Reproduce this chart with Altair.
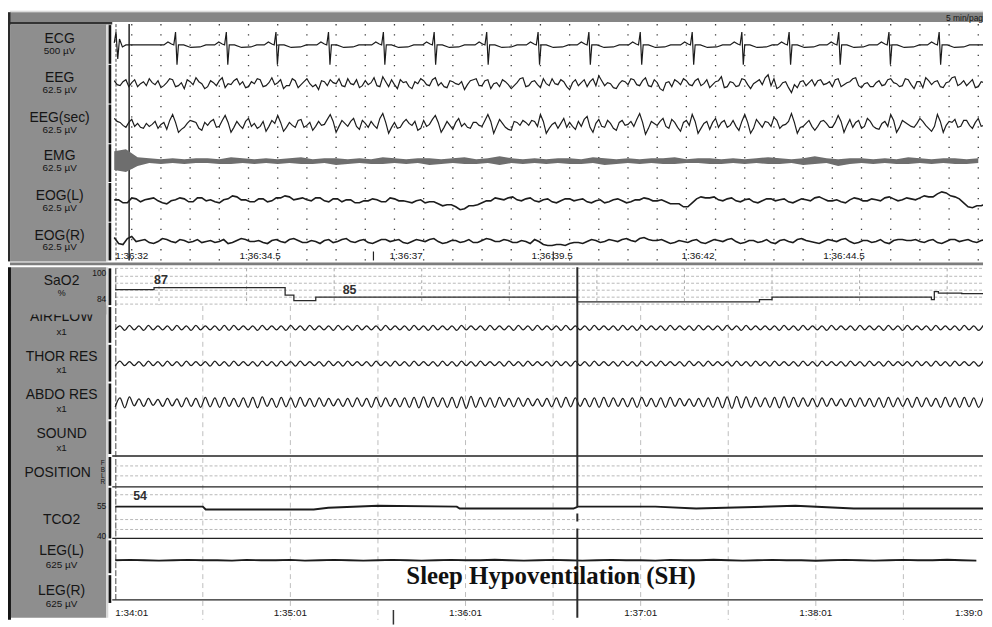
import altair as alt
import pandas as pd

# ---------------- data ----------------
TOP_CHANNELS = ["ECG", "EEG", "EEG(sec)", "EMG", "EOG(L)", "EOG(R)"]
TOP_UNITS = ["500 µV", "62.5 µV", "62.5 µV", "62.5 µV", "62.5 µV", "62.5 µV"]
TOP_TIME_LABELS = ["1:36:32", "1:36:34.5", "1:36:37", "1:36:39.5", "1:36:42", "1:36:44.5"]
TOP_TIME_SEC = [0, 2.5, 5, 7.5, 10, 12.5]
BOT_TIME_LABELS = ["1:34:01", "1:35:01", "1:36:01", "1:37:01", "1:38:01", "1:39:01"]
BOT_TIME_SEC = [0, 60, 120, 180, 240, 300]

# ECG: R-peak times (s) and one beat shape (offset s, deflection)
ECG_BEATS = [1.05, 1.92, 2.77, 3.67, 4.61, 5.48, 6.38, 7.26, 8.13, 9.01,
             9.90, 10.75, 11.56, 12.41, 13.27, 14.13]
ECG_DT = [-0.20, -0.13, -0.07, -0.03, 0.0, 0.025, 0.05, 0.14, 0.26, 0.42, 0.52]
ECG_DV = [0, 3, 1, 0, 13, -20, 0, 0, -2.5, -2, 0]
ECG_PRE_T = [0.0, 0.03, 0.06, 0.09, 0.14, 0.2]
ECG_PRE_V = [2, 13, -14, 6, -2, 0]

# samples every 0.1 s, plus in-between samples (at +0.05 s)
EEG = [3, -2, 4, 1, -3, 2, 5, -1, -4, 1,
       4, -2, -5, 2, 6, 0, -3, 1, 3, -4,
       -1, 5, 2, -3, 0, 4, -2, 6, 1, -5,
       -2, 3, -1, 5, -3, -6, 2, 4, 0, -2,
       5, -1, -4, 3, 1, -2, 7, -3, -1, 4,
       2, -5, 0, 3, -2, 6, 1, -4, 2, -1,
       -6, 3, 5, -2, 4, 0, -3, 2, -5, 1,
       6, -2, 3, -4, 0, 5, -1, 2, -6, 4,
       1, -3, 5, 8, -2, 0, -5, 3, -1, 4,
       -2, 6, -3, 1, -7, 2, 4, -1, 3, -2,
       5, 0, -4, 2, 7, -3, 1, -2, 4, -5,
       2, -1, 9, 5, -3, 2, -9, -4, 3, 1,
       -2, 4, 0, -3, 5, -1, 2, 6, -4, 1,
       -3, 3, -1, 5, 0, -2, 4, -5, 2, 6,
       -1, 3, -4, 2, 7, 0, -2, 4, -3, 1]
EEG_MID = [-1, 2, -3, 4, 0, -2, 1, 3, -2, 5,
           -3, 1, 4, -1, 2, -5, 3, -2, 6, 0,
           3, -1, -4, 2, 5, -3, 1, -1, 4, -2,
           5, -4, 2, 0, -1, 3, -2, 1, 5, -3,
           0, 4, -2, -1, 6, -3, 2, 4, -5, 1,
           -3, 2, 5, -1, 4, -2, -3, 3, 0, 2,
           -1, 4, -2, 3, -5, 1, 4, -1, -2, 5,
           -3, 2, -1, 5, -2, 0, 4, -3, 1, -2,
           4, 2, -2, 3, 1, -4, 0, 2, 5, -1,
           3, -2, 4, -5, 1, -3, 2, 5, -1, 3,
           -2, 4, -1, 3, -4, 2, -3, 5, -1, 0,
           4, 6, -2, -5, 1, -4, -1, 2, -2, 4,
           3, -1, 2, 4, -3, 1, 5, -2, 0, -3,
           1, -2, 4, 1, -3, 5, -1, 2, -4, 3,
           2, -3, 1, 6, -2, 3, 1, -4, 2, 0]
EEG_SEC = [6, 2, -3, 5, 1, -4, -2, 3, 0, -5,
           10, -8, -3, 4, 2, -6, -1, 5, -2, 9,
           -8, 3, -4, 6, 1, -2, -7, 4, 9, -7,
           2, -3, 5, -1, -6, 3, 0, 10, -8, 4,
           -2, 6, -5, 1, 3, -4, 11, -9, 2, -3,
           5, -1, -6, 4, 0, 9, -8, 3, -5, 6,
           1, -4, 2, -2, 10, -9, 5, -3, -6, 2,
           4, -1, 3, 10, -9, 0, -4, 6, 2, -5,
           -2, 8, -8, 5, -3, 1, -6, 4, 0, -2,
           11, -10, 3, -1, 6, -4, 2, -7, 4, 10,
           -9, 1, -5, 6, 2, -3, 4, -6, 10, -9,
           5, -3, 2, 7, -4, 0, 11, -9, -2, 4,
           -6, 3, 1, -3, 9, -8, 5, 2, -4, 6,
           -2, -5, 3, 10, -8, 4, 0, -3, 6, -1,
           -7, 10, -8, 3, 5, -2, 4, -4, 6, -1]
EEG_SEC_MID = [3, -1, 2, -2, -3, 1, 0, -4, 2, 4,
               2, -5, 1, 3, -4, 2, 3, -3, 4, 2,
               -3, -1, 3, -2, -4, 3, -2, 1, 2, -3,
               -1, 4, -3, 2, -2, -1, 5, 3, -2, 1,
               3, -2, 4, -3, -1, 6, 2, -3, -4, 2,
               1, 3, -4, -2, 5, 2, -3, -1, 2, -2,
               -3, 2, -1, 4, 3, -2, 1, -5, 3, -1,
               2, 4, -2, 3, -4, 2, 1, -3, -2, 3,
               5, -3, 1, -2, 4, -4, 2, -1, 3, 5,
               2, -4, 1, 3, -2, 5, -3, 2, -1, 3,
               -4, 3, 2, -3, 4, -1, -2, 3, 2, -4,
               1, 3, -2, 4, -1, 3, 2, -3, 1, -2,
               -2, 4, -3, 2, 3, -1, -3, 4, -2, 3,
               -4, 1, -2, 4, -3, 2, -2, 1, 3, -4,
               -2, 3, -1, 2, -3, 4, -1, 2, -2, 3]
# EMG band: upper / lower half-width every 0.2 s
EMG_UP = [10, 12, 4, 3, 2, 3, 2, 3, 3, 2,
          4, 3, 2, 3, 2, 3, 4, 2, 3, 3,
          2, 3, 2, 4, 3, 2, 3, 3, 2, 3,
          4, 2, 3, 5, 3, 2, 3, 2, 3, 3,
          2, 4, 3, 2, 3, 2, 3, 3, 4, 2,
          3, 3, 2, 3, 2, 3, 4, 3, 2, 3,
          5, 3, 2, 3, 3, 2, 3, 2, 4, 3,
          2, 3, 3, 2, 3]
EMG_DN = [9, 11, 5, 2, 3, 2, 3, 2, 2, 3,
          3, 2, 3, 2, 3, 2, 3, 3, 2, 4,
          3, 2, 3, 3, 2, 3, 2, 4, 3, 2,
          3, 3, 2, 4, 2, 3, 2, 3, 2, 3,
          3, 2, 4, 3, 2, 3, 2, 3, 3, 2,
          2, 3, 3, 2, 3, 2, 3, 3, 2, 4,
          3, 2, 5, 3, 2, 3, 2, 3, 3, 2,
          3, 2, 3, 3, 2]
# EOG: samples every 0.15 s plus in-between samples
EOG_L = [1, -2, 3, -1, 2, 0, -3, 1, 2, -1,
         3, 1, -2, 2, 4, 1, -1, 2, 0, 3,
         4, 2, 1, 3, 0, 2, -1, 1, -2, 0,
         1, -1, 2, 0, -2, 1, -1, -3, -4, -6,
         -8, -5, -2, 0, 2, 3, 1, 2, 0, 1,
         -1, 0, 2, 1, -1, 0, -2, 1, 0, -1,
         1, 2, 0, -1, -3, -6, -2, 4, 3, 1,
         2, 0, 1, -1, 0, 2, 1, -1, 0, 1,
         3, 2, 0, -1, 1, 2, 0, 1, 3, 2,
         1, 2, 3, 4, 7, 8, 4, -2, -7, -5]
EOG_L_MID = [1, -2, 2, 1, 3, -2, 0, 3, -1, 3,
             0, -1, 1, 5, 1, -1, 2, -1, 3, 5,
             1, 3, 0, 3, -1, 2, 1, -2, 0, 2,
             -1, 3, 0, -1, 0, -2, -1, -5, -4, -9,
             -5, -4, 0, 3, 1, 4, 0, 3, -1, 2,
             -2, 2, 0, 2, -2, 1, -1, 2, -2, 1,
             3, 0, 1, -3, -3, -6, 2, 3, 4, 0,
             3, -1, 2, -2, 2, 0, 2, -2, 2, 0,
             4, 0, 1, -2, 3, 0, 2, 0, 4, 0,
             3, 1, 5, 4, 9, 5, 2, -6, -5, -3]
EOG_R = [4, -3, 5, 1, -1, 0, 2, -1, 1, 0,
         -1, 1, 0, -2, 1, 2, 0, -1, 1, 0,
         2, 1, -1, 0, 1, -1, 2, 0, 1, -1,
         0, 2, 1, -1, 0, 1, 2, 0, -1, 1,
         0, -1, 1, 2, 0, 1, -1, 0, 2, -3,
         -4, -3, -2, -1, 0, 1, 0, 1, 2, 1,
         3, 2, 1, 0, -1, 0, 1, -1, 0, 1,
         2, 0, -1, 1, 0, -1, 1, 0, 2, 1,
         -1, 0, 1, 2, 0, -1, 1, 0, -1, 1,
         2, 1, 0, 1, -1, 0, 2, 1, 0, 1]
EOG_R_MID = [-2, 3, 0, 2, -2, 3, 0, 2, -1, 2,
             0, -1, 2, -1, 3, 0, 1, -2, 2, -1,
             3, -1, 1, -2, 2, 0, 3, -1, 2, -2,
             2, 0, 2, -2, 2, 0, 3, -2, 1, -1,
             2, -1, 3, 0, 2, -1, 1, -2, 0, -4,
             -3, -4, -1, -2, 2, -1, 2, 0, 3, 0,
             4, 1, 2, -2, 1, -1, 2, -2, 2, 0,
             3, -2, 1, -1, 2, -2, 2, -1, 3, 0,
             -2, 2, 0, 3, -2, 1, -1, 2, -2, 2,
             1, 2, -1, 2, -2, 2, 0, 2, -1, 2]

SAO2_T = [0, 13.3, 58.2, 61.2, 68.7, 158.3, 220.7, 225, 279.6, 280.6, 282, 290, 297.3]
SAO2_V = [86.9, 87.4, 85.5, 84.1, 85.0, 83.8, 84.4, 85.0, 84.4, 86.4, 86.0, 85.9, 85.9]
BREATH_PERIOD = 3.25
AIRFLOW_AMP = [2.0, 2.5, 2.0, 2.5, 2.0, 2.0, 2.5, 2.0, 2.5, 2.0,
               2.0, 2.5, 2.5, 2.0, 2.0, 2.5, 2.0, 2.0, 2.5, 2.0,
               2.5, 2.0, 2.0, 2.5, 2.0, 2.5, 2.0, 2.0, 2.5, 2.0,
               2.0, 2.5, 2.0, 2.5, 2.0, 2.0, 2.5, 2.0, 2.0, 2.5,
               2.0, 2.0, 2.5, 2.0, 2.5, 2.0, 2.0, 2.5, 2.0, 2.0,
               2.5, 2.0, 2.0, 2.5, 2.0, 2.5, 2.0, 2.0, 2.5, 2.0,
               2.0, 2.5, 2.0, 2.0, 2.5, 2.0, 2.5, 2.0, 2.0, 2.0,
               2.5, 2.0, 2.5, 2.0, 2.0, 2.5, 2.0, 2.0, 2.5, 2.0,
               2.0, 2.5, 2.0, 2.5, 2.0, 2.0, 2.5, 2.0, 2.0, 2.5,
               2.0, 2.5]
THOR_AMP = [2.5, 2.0, 2.0, 2.5, 2.0, 2.5, 2.0, 2.5, 2.0, 2.0,
            2.5, 2.0, 2.5, 2.0, 2.0, 2.5, 2.0, 2.5, 2.0, 2.5,
            2.0, 2.0, 2.5, 2.0, 2.5, 2.0, 2.0, 2.5, 2.0, 2.5,
            2.0, 2.5, 2.0, 2.0, 2.5, 2.0, 2.5, 2.0, 2.5, 2.0,
            2.0, 2.5, 2.0, 2.5, 2.0, 2.0, 2.5, 2.0, 2.5, 2.0,
            2.5, 2.0, 2.0, 2.5, 2.0, 2.5, 2.0, 2.5, 2.0, 2.0,
            2.5, 2.0, 2.5, 2.0, 2.0, 2.5, 2.0, 2.5, 2.0, 2.5,
            2.0, 2.0, 2.5, 2.0, 2.5, 2.0, 2.0, 2.5, 2.0, 2.5,
            2.0, 2.5, 2.0, 2.0, 2.5, 2.0, 2.5, 2.0, 2.5, 2.0,
            2.0, 2.5]
ABDO_AMP = [4.5, 5.5, 3.5, 4.0, 3.0, 4.0, 3.5, 4.5, 4.0, 5.0,
            4.5, 5.0, 4.0, 4.5, 5.0, 5.5, 4.0, 5.0, 4.5, 5.0,
            4.0, 4.5, 4.0, 3.5, 4.0, 4.5, 4.0, 5.0, 4.5, 4.0,
            4.5, 5.0, 5.5, 5.0, 4.5, 5.0, 5.5, 6.0, 5.0, 4.5,
            5.0, 4.0, 4.5, 4.0, 3.5, 4.0, 4.5, 5.0, 4.5, 4.0,
            4.5, 5.0, 4.5, 4.0, 4.5, 5.0, 4.0, 4.5, 5.0, 4.0,
            3.5, 4.0, 4.5, 5.0, 5.5, 6.0, 5.5, 5.0, 4.5, 5.0,
            5.5, 5.0, 4.5, 4.0, 4.5, 4.0, 3.5, 4.0, 4.5, 4.0,
            4.5, 5.0, 4.5, 4.0, 5.0, 4.5, 4.0, 5.0, 4.5, 5.0,
            4.5, 5.0]
TCO2_T = [0, 30, 31, 68, 73, 90, 117, 118, 157, 158.5, 185, 199, 233, 253, 297.3]
TCO2_V = [54.1, 54.1, 52.8, 52.8, 53.6, 54.5, 54.1, 53.2, 53.2, 54.1, 54.1, 53.2, 54.5, 53.2, 53.2]
LEG_L = [0, 0.3, 0, -0.3, 0, 0.3, 0, 0, -0.3, 0.3,
         0, 0, 0.3, -0.3, 0, 0.3, 0, -0.3, 0, 0.3,
         0, -0.3, 0, 0.3, 0, 0, 0.5, 0, -0.3, 0,
         0.3, 0, -0.3, 0, 0.3, 0, 0, -0.3, 0.3, 0,
         0, 0.5, 0, -0.3, 0, 0.3, 0, 0, -0.5, 0,
         0.3, 0, -0.3, 0, 0.3, 0, 0, 0.5, 0, -0.3]

# ---------------- layout (pixels) ----------------
W = 982
H_TOP = 257
H_BOT = 362
TOP_X0, TOP_PPS = 107.0, 58.8
BOT_X0, BOT_PPS = 108.0, 2.94
XT = [-TOP_X0 / TOP_PPS, (W - TOP_X0) / TOP_PPS]
XB = [-BOT_X0 / BOT_PPS, (W - BOT_X0) / BOT_PPS]
FONT = "Liberation Sans"
LBL_GRAY = "#8e8e8e"
NAME_SIZE = 14
UNIT_SIZE = 10


def xs(domain):
    return alt.X("t:Q", scale=alt.Scale(domain=domain, nice=False, zero=False), axis=None)


def ys(h):
    return alt.Y("py:Q", scale=alt.Scale(domain=[0, h], reverse=True, nice=False, zero=False), axis=None)


def rects(rows):
    df = pd.DataFrame(rows, columns=["x", "x2", "y", "y2", "c"])
    return alt.Chart(df).mark_rect().encode(
        x=alt.X("x:Q", scale=None, axis=None), x2="x2:Q",
        y=alt.Y("y:Q", scale=None, axis=None), y2="y2:Q",
        color=alt.Color("c:N", scale=None, legend=None))


def texts(rows, align="center", weight="normal", font=FONT, color="#151515", clip=False):
    df = pd.DataFrame(rows, columns=["x", "y", "txt", "s"])
    return alt.Chart(df).mark_text(align=align, baseline="middle", font=font,
                                   fontWeight=weight, color=color, clip=clip).encode(
        x=alt.X("x:Q", scale=None, axis=None), y=alt.Y("y:Q", scale=None, axis=None),
        text="txt:N", size=alt.Size("s:Q", scale=None, legend=None))


def hrules(rows, color, width=1, dash=None):
    df = pd.DataFrame(rows, columns=["x", "x2", "y"])
    kw = dict(color=color, strokeWidth=width)
    if dash:
        kw["strokeDash"] = dash
    return alt.Chart(df).mark_rule(**kw).encode(
        x=alt.X("x:Q", scale=None, axis=None), x2="x2:Q",
        y=alt.Y("y:Q", scale=None, axis=None))


def vrules(ts, y1, y2, domain, color, width=1, dash=None):
    df = pd.DataFrame({"t": ts, "y1": [y1] * len(ts), "y2": [y2] * len(ts)})
    kw = dict(color=color, strokeWidth=width, clip=True)
    if dash:
        kw["strokeDash"] = dash
    return alt.Chart(df).mark_rule(**kw).encode(
        x=xs(domain), y=alt.Y("y1:Q", scale=None, axis=None), y2="y2:Q")


def time_labels(labels, secs, py, domain, align, dx=0):
    df = pd.DataFrame({"t": secs, "py": [py] * len(secs), "txt": labels})
    return alt.Chart(df).mark_text(align=align, baseline="middle", font=FONT, fontSize=10,
                                   color="#151515", dx=dx, clip=True).encode(
        x=xs(domain), y=alt.Y("py:Q", scale=None, axis=None), text="txt:N")


def sampled(values, mids, dt, base, name):
    out = [(i * dt, base - v, name) for i, v in enumerate(values)]
    out += [(i * dt + dt / 2, base - v, name) for i, v in enumerate(mids)]
    return out


# ---------------- top panel ----------------
top_base = {"ECG": 35, "EEG": 74, "EEG(sec)": 115, "EMG": 152, "EOG(L)": 192, "EOG(R)": 233}

ecg = list(zip(ECG_PRE_T, ECG_PRE_V))
for b in ECG_BEATS:
    ecg += [(b + dt, dv) for dt, dv in zip(ECG_DT, ECG_DV)]
ecg.append((XT[1], 0))
ecg.sort()

rows = [(t, top_base["ECG"] - v, "ECG") for t, v in ecg]
rows += sampled(EEG, EEG_MID, 0.1, top_base["EEG"], "EEG")
rows += sampled(EEG_SEC, EEG_SEC_MID, 0.1, top_base["EEG(sec)"], "EEG(sec)")
eeg_df = pd.DataFrame(rows, columns=["t", "py", "ch"])
eog_rows = sampled(EOG_L, EOG_L_MID, 0.15, top_base["EOG(L)"], "EOG(L)")
eog_rows += sampled(EOG_R, EOG_R_MID, 0.15, top_base["EOG(R)"], "EOG(R)")
eog_df = pd.DataFrame(eog_rows, columns=["t", "py", "ch"])

emg_df = pd.DataFrame({
    "t": [i * 0.2 for i in range(len(EMG_UP))],
    "py": [top_base["EMG"] - u for u in EMG_UP],
    "py2": [top_base["EMG"] + d for d in EMG_DN],
})

top_layers = []
bands_top = [(15, 54), (55, 94), (95, 134), (135, 173), (174, 213), (214, 252)]
top_rect_rows = [
    (2, 982, 0.5, 1.5, "#cfcfcf"),
    (2, 982, 2, 12, "#858585"),
    (0, 105, 12, 14.5, "#333333"),
    (0, 2.5, 2, 253, "#2a2a2a"),
    (2.5, 99, 14.5, 253, LBL_GRAY),
    (99, 101, 14.5, 253, "#d8d8d8"),
    (2, 982, 254, 257, "#7d7d7d"),
]
top_rect_rows += [(101.3, 104, a, b, "#111111") for a, b in bands_top]
top_layers.append(rects(top_rect_rows))

grid_t = [0.3 + 0.5 * k for k in range(30)]
top_layers.append(vrules(grid_t, 14, 253, XT, "#3c3c3c", 1.3, [1.3, 9]))
top_layers.append(vrules([0.03], 14, 253, XT, "#444444", 1, [3, 2]))
top_layers.append(vrules([0.255], 14, 252, XT, "#222222", 1.5))
top_layers.append(vrules([4.44, 7.52], 243, 252, XT, "#222222", 1.2))

top_layers.append(alt.Chart(emg_df).mark_area(color="#6e6e6e", clip=True, interpolate="linear").encode(
    x=xs(XT), y=ys(H_TOP), y2="py2:Q"))
top_layers.append(alt.Chart(eeg_df).mark_line(color="#1c1c1c", strokeWidth=1.2, clip=True).encode(
    x=xs(XT), y=ys(H_TOP), detail="ch:N"))
top_layers.append(alt.Chart(eog_df).mark_line(color="#1c1c1c", strokeWidth=1.6, clip=True).encode(
    x=xs(XT), y=ys(H_TOP), detail="ch:N"))

name_y = [29, 68, 109, 147, 187, 227]
top_layers.append(texts([(52, y, n, NAME_SIZE) for y, n in zip(name_y, TOP_CHANNELS)]))
top_layers.append(texts([(52, y + 12, u, UNIT_SIZE) for y, u in zip(name_y, TOP_UNITS)]))
top_layers.append(texts([(982, 7.5, "5 min/pag", 8.5)], align="right"))
top_layers.append(time_labels(TOP_TIME_LABELS[:1], TOP_TIME_SEC[:1], 248, XT, "left", 1))
top_layers.append(time_labels(TOP_TIME_LABELS[1:], TOP_TIME_SEC[1:], 248, XT, "center"))

top = alt.layer(*top_layers).resolve_scale(x="independent", y="independent").properties(
    width=W, height=H_TOP)

# ---------------- bottom panel ----------------
bot_base = {"AIRFLOW": 63, "THOR RES": 99, "ABDO RES": 138, "LEG(L)": 297}

brows = []
for name, amps in [("AIRFLOW", AIRFLOW_AMP), ("THOR RES", THOR_AMP), ("ABDO RES", ABDO_AMP)]:
    for i, a in enumerate(amps):
        brows.append((i * BREATH_PERIOD, bot_base[name] + a, name))
        brows.append(((i + 0.5) * BREATH_PERIOD, bot_base[name] - a, name))
resp_df = pd.DataFrame(brows, columns=["t", "py", "ch"])

sao2_df = pd.DataFrame({"t": SAO2_T, "py": [32 - (v - 85) * 4 for v in SAO2_V]})
tco2_df = pd.DataFrame({"t": TCO2_T, "py": [241 + (55 - v) * 2.2 for v in TCO2_V]})
leg_df = pd.DataFrame({"t": [i * 5 for i in range(len(LEG_L))],
                       "py": [bot_base["LEG(L)"] - v for v in LEG_L]})

bands_bot = [(3, 40), (42, 78), (80, 117), (119, 155), (157, 190), (193, 222),
             (224, 275), (277, 310), (312, 340)]
bot_rect_rows = [
    (0, 3, 2, 357, "#151515"),
    (3, 99, 2, 355, LBL_GRAY),
    (99, 101, 2, 355, "#d8d8d8"),
]
bot_rect_rows += [(101.3, 104, a, b, "#111111") for a, b in bands_bot]

bot_layers = [rects(bot_rect_rows)]
bot_layers.append(hrules([(108, 982, y) for y in [3, 11, 18, 25, 32, 39]], "#b8b8b8", 1, [3, 2]))
bot_layers.append(vrules([15 + 30 * k for k in range(10)], 3, 40, XB, "#a8a8a8", 1, [3, 3]))
bot_layers.append(vrules([30 * k for k in range(1, 10)], 41, 357, XB, "#bdbdbd", 1, [5, 4]))
bot_layers.append(hrules([(108, 982, y) for y in [202, 212, 231, 256, 266]], "#b8b8b8", 1, [3, 2]))
bot_layers.append(hrules([(105, 982, y) for y in [192, 223, 275, 337]], "#222222", 1.3))
bot_layers.append(vrules([0.2], 3, 337, XB, "#444444", 1, [6, 2]))

bot_layers.append(alt.Chart(sao2_df).mark_line(color="#2a2a2a", strokeWidth=1.3, interpolate="step-after",
                                               clip=True).encode(x=xs(XB), y=ys(H_BOT)))
bot_layers.append(alt.Chart(resp_df).mark_line(color="#1c1c1c", strokeWidth=1.3, interpolate="monotone",
                                               clip=True).encode(x=xs(XB), y=ys(H_BOT), detail="ch:N"))
bot_layers.append(alt.Chart(tco2_df).mark_line(color="#1c1c1c", strokeWidth=2, clip=True).encode(
    x=xs(XB), y=ys(H_BOT)))
bot_layers.append(alt.Chart(leg_df).mark_line(color="#1c1c1c", strokeWidth=1.8, clip=True).encode(
    x=xs(XB), y=ys(H_BOT)))

bot_layers.append(vrules([158.3], 2, 243, XB, "#2a2a2a", 2))
bot_layers.append(vrules([158.3], 250, 258, XB, "#2a2a2a", 2))
bot_layers.append(vrules([158.3], 265, 355, XB, "#2a2a2a", 2))
bot_layers.append(vrules([95.3], 347, 362, XB, "#333333", 1.5))

bot_layers.append(texts([(154, 15, "87", 12.5), (344, 25, "85", 12.5), (133, 232, "54", 12.5)],
                        weight="bold", color="#303030"))
bot_layers.append(texts([(547, 313, "Sleep Hypoventilation (SH)", 25)], weight="bold",
                        font="Liberation Serif", color="#111111"))

bot_layers.append(texts([(54, 52, "AIRFLOW", NAME_SIZE)]))
bot_layers.append(rects([(3, 99, 40.5, 49.5, LBL_GRAY)]))
bot_layers.append(texts([
    (54, 16, "SaO2", NAME_SIZE), (54, 92, "THOR RES", NAME_SIZE), (54, 131, "ABDO RES", NAME_SIZE),
    (54, 170, "SOUND", NAME_SIZE), (50, 209, "POSITION", NAME_SIZE), (54, 256, "TCO2", NAME_SIZE),
    (54, 288, "LEG(L)", NAME_SIZE), (54, 328, "LEG(R)", NAME_SIZE),
]))
bot_layers.append(texts([
    (54, 28, "%", 9), (54, 67, "x1", UNIT_SIZE), (54, 105, "x1", UNIT_SIZE), (54, 145, "x1", UNIT_SIZE),
    (54, 184, "x1", UNIT_SIZE), (54, 302, "625 µV", UNIT_SIZE), (54, 341, "625 µV", UNIT_SIZE),
    (95.5, 199.5, "F", 6.5), (95.5, 205.8, "B", 6.5), (95.5, 212.1, "L", 6.5), (95.5, 218.4, "R", 6.5),
]))
bot_layers.append(texts([(99, 8, "100", 8.5), (99, 34, "84", 8.5), (99, 242, "55", 8.5), (99, 273, "40", 8.5)],
                        align="right"))

bot_layers.append(time_labels(BOT_TIME_LABELS[:1], BOT_TIME_SEC[:1], 350, XB, "left", 0))
bot_layers.append(time_labels(BOT_TIME_LABELS[1:5], BOT_TIME_SEC[1:5], 350, XB, "center"))
bot_layers.append(time_labels(BOT_TIME_LABELS[5:], BOT_TIME_SEC[5:], 350, XB, "right", -3))

bottom = alt.layer(*bot_layers).resolve_scale(x="independent", y="independent").properties(
    width=W, height=H_BOT)

chart = alt.vconcat(top, bottom, spacing=0).properties(
    padding={"left": 0, "top": 0, "right": 0, "bottom": 0},
    background="white",
).configure_view(stroke=None).configure_concat(spacing=0)

chart.save("out.html", embed_options={"renderer": "svg", "actions": False})
